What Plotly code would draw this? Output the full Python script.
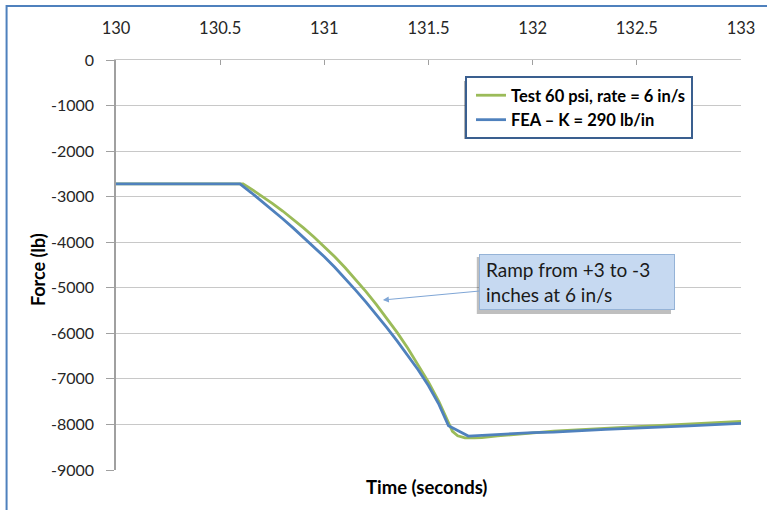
import plotly.graph_objects as go

# Measured force during the ramp (test rig, 60 psi)
test_time = [130.00, 130.61, 130.65, 130.705, 130.75, 130.80, 130.85, 130.90,
             130.95, 131.00, 131.05, 131.10, 131.15, 131.20, 131.25, 131.30,
             131.35, 131.40, 131.45, 131.50, 131.55, 131.58, 131.60, 131.615,
             131.64, 131.675, 131.72, 131.756, 131.832, 132.10, 132.50,
             132.80, 133.00]
test_force = [-2720, -2720, -2835, -3000, -3145, -3315, -3495, -3685,
              -3885, -4095, -4320, -4560, -4815, -5085, -5370, -5670,
              -5985, -6320, -6680, -7070, -7500, -7800, -8020, -8150,
              -8250, -8295, -8297, -8290, -8253, -8145, -8050,
              -7985, -7935]

# Finite-element prediction, K = 290 lb/in
fea_time = [130.00, 130.595, 130.65, 130.70, 130.75, 130.80, 130.85, 130.90,
            130.95, 131.00, 131.05, 131.10, 131.15, 131.20, 131.25, 131.30,
            131.35, 131.40, 131.45, 131.50, 131.55, 131.596, 131.691, 132.00,
            132.10, 132.35, 132.50, 132.75, 133.00]
fea_force = [-2720, -2720, -2915, -3100, -3290, -3485, -3685, -3890,
             -4100, -4320, -4550, -4795, -5050, -5315, -5590, -5875,
             -6170, -6475, -6800, -7150, -7560, -8030, -8255, -8180,
             -8168, -8110, -8085, -8030, -7975]

x_ticks = [130, 130.5, 131, 131.5, 132, 132.5, 133]
x_tick_text = ["130", "130.5", "131", "131.5", "132", "132.5", "133"]
y_ticks = [0, -1000, -2000, -3000, -4000, -5000, -6000, -7000, -8000, -9000]
y_tick_text = ["0", "-1000", "-2000", "-3000", "-4000", "-5000", "-6000",
               "-7000", "-8000", "-9000"]

series_names = ["Test 60 psi, rate = 6 in/s", "FEA \u2013 K = 290 lb/in"]
note_text = "Ramp from +3 to -3<br>inches at 6 in/s"
note_time, note_force = 131.281, -5268

W, H = 767, 510
L, R, T, B = 116, 17, 60, 40
PW, PH = W - L - R, H - T - B


def px_x(p):
    return (p - L) / PW


def px_y(p):
    return (H - B - p) / PH


FONT = "Lato, 'Open Sans', sans-serif"
GREEN = "#9BBB59"
BLUE = "#4F81BD"
GRID = "#C8C8C8"

fig = go.Figure()
fig.add_trace(go.Scatter(x=test_time, y=test_force, mode="lines",
                         name=series_names[0],
                         line=dict(color=GREEN, width=2.8)))
fig.add_trace(go.Scatter(x=fea_time, y=fea_force, mode="lines",
                         name=series_names[1],
                         line=dict(color=BLUE, width=2.8)))

fig.update_xaxes(
    range=[130, 133], side="top", tickvals=x_ticks, ticktext=x_tick_text,
    showgrid=False, showline=True, linecolor=GRID, linewidth=1,
    ticks="inside", ticklen=5, tickcolor="#A0A0A0", ticklabelstandoff=18,
    tickfont=dict(family=FONT, size=16.5, color="#262626"), zeroline=False,
)
fig.update_yaxes(
    range=[-9000, 0], tickvals=y_ticks, ticktext=y_tick_text,
    showgrid=True, gridcolor=GRID, gridwidth=1,
    showline=True, linecolor="#A0A0A0", linewidth=1.5,
    ticks="outside", ticklen=8, tickcolor="#A0A0A0", ticklabelstandoff=9,
    tickfont=dict(family=FONT, size=16, color="#262626"), zeroline=False,
)

annotations = [
    dict(text="<b>Force (lb)</b>", xref="paper", yref="paper",
         x=px_x(37), y=px_y(270), xanchor="center", yanchor="middle",
         textangle=-90, showarrow=False,
         font=dict(family=FONT, size=18, color="#000000")),
    dict(text="<b>Time (seconds)</b>", xref="paper", yref="paper",
         x=px_x(431), y=px_y(487), xanchor="center", yanchor="middle",
         showarrow=False,
         font=dict(family=FONT, size=18.5, color="#000000")),
    dict(text=note_text, x=note_time, y=note_force, xref="x", yref="y",
         showarrow=True, ax=194, ay=-18, arrowhead=2, arrowsize=1.2,
         arrowwidth=1, arrowcolor="#7FA6D6", align="left", valign="middle",
         width=182, height=42, bgcolor="#C6D9F1", bordercolor="#95B3D7",
         borderwidth=1, borderpad=6,
         font=dict(family=FONT, size=19, color="#1A1A1A")),
]

shapes = [
    # outer chart frame
    dict(type="rect", xref="paper", yref="paper", x0=px_x(5), x1=px_x(W + 20),
         y0=px_y(H + 20), y1=px_y(6), line=dict(color=BLUE, width=2),
         layer="above"),
    # legend shadow
    dict(type="rect", xref="paper", yref="paper", x0=px_x(469), x1=px_x(695),
         y0=px_y(139), y1=px_y(81), fillcolor="rgba(0,0,0,0.3)",
         line=dict(width=0), layer="above"),
    # note shadow
    dict(type="rect", xref="paper", yref="paper", x0=px_x(482), x1=px_x(679),
         y0=px_y(314), y1=px_y(257), fillcolor="rgba(0,0,0,0.25)",
         line=dict(width=0), layer="above"),
]

fig.update_layout(
    width=W, height=H, margin=dict(l=L, r=R, t=T, b=B),
    paper_bgcolor="white", plot_bgcolor="white",
    showlegend=True,
    legend=dict(x=px_x(470), y=px_y(76), xanchor="left", yanchor="top",
                bgcolor="white", bordercolor="#3A5F8F", borderwidth=2,
                font=dict(family=FONT, size=16.5, color="#000000",
                          weight="bold"),
                itemwidth=30, tracegroupgap=0, indentation=4),
    annotations=annotations, shapes=shapes,
)

fig.write_html("out.html")
